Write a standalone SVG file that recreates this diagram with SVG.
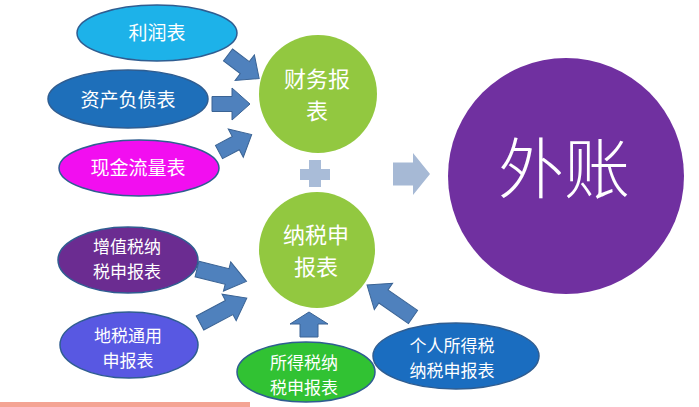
<svg xmlns="http://www.w3.org/2000/svg" width="699" height="407" viewBox="0 0 699 407">
<style>
  .t{font-family:"Noto Sans CJK SC","Noto Sans",sans-serif;fill:#ffffff;text-anchor:middle}
  .s19{font-size:19px}
  .s18{font-size:17px}
  .s24{font-size:22px}
  .ell{stroke:#2f5d91;stroke-width:1.5}
  .arr{fill:#4f81bd;stroke:#3a6394;stroke-width:1}
  .green{fill:#92c840}
</style>
<rect width="699" height="407" fill="#ffffff"/>
<rect x="0" y="402" width="250" height="5" fill="#f4a494"/>

<g id="connectors">
  <path class="arr" transform="translate(228,55) rotate(37)" d="M0,-7.5 L21,-7.5 L21,-16 L39,0 L21,16 L21,7.5 L0,7.5 Z"/>
  <path class="arr" transform="translate(212,104)" d="M0,-7.5 L20,-7.5 L20,-16 L38,0 L20,16 L20,7.5 L0,7.5 Z"/>
  <path class="arr" transform="translate(219,152) rotate(-28)" d="M0,-7.5 L19,-7.5 L19,-16 L37,0 L19,16 L19,7.5 L0,7.5 Z"/>
  <path class="arr" transform="translate(197,269) rotate(14)" d="M0,-8 L31,-8 L31,-15 L51,0 L31,15 L31,8 L0,8 Z"/>
  <path class="arr" transform="translate(200,323) rotate(-28)" d="M0,-8 L33,-8 L33,-15 L53,0 L33,15 L33,8 L0,8 Z"/>
  <path class="arr" transform="translate(309,337) rotate(-90)" d="M0,-9 L13,-9 L13,-19 L25,0 L13,19 L13,9 L0,9 Z"/>
  <path class="arr" transform="translate(413,317) rotate(-145.2)" d="M0,-8 L36,-8 L36,-16 L56,0 L36,16 L36,8 L0,8 Z"/>
  <path fill="#a6b9d5" d="M393,162.5 L413,162.5 L413,153 L430,174 L413,195 L413,185.5 L393,185.5 Z"/>
  <g id="plus" fill="#a9bcd8">
    <rect x="309" y="160" width="12" height="27"/>
    <rect x="300" y="169" width="30" height="11"/>
  </g>
</g>

<g id="lirunbiao">
  <ellipse class="ell" cx="157" cy="33" rx="80" ry="28" fill="#1db2e9"/>
  <text class="t s19" x="157" y="40">利润表</text>
</g>
<g id="zichanfuzhaibiao">
  <ellipse class="ell" cx="128" cy="99" rx="80" ry="29" fill="#1e6fba"/>
  <text class="t s19" x="128" y="107">资产负债表</text>
</g>
<g id="xianjinliuliangbiao">
  <ellipse class="ell" cx="139" cy="168" rx="80" ry="28" fill="#f20ef0"/>
  <text class="t s19" x="138" y="175">现金流量表</text>
</g>
<g id="caiwubaobiao">
  <circle class="green" cx="318" cy="94" r="59"/>
  <text class="t s24" x="317" y="87">财务报</text>
  <text class="t s24" x="317" y="119">表</text>
</g>
<g id="nashuishenbaobiao">
  <circle class="green" cx="317" cy="250" r="58"/>
  <text class="t s24" x="316" y="243">纳税申</text>
  <text class="t s24" x="316" y="275">报表</text>
</g>
<g id="zengzhishui">
  <ellipse class="ell" cx="128" cy="260" rx="70" ry="33" fill="#6b2c91"/>
  <text class="t s18" x="127" y="252.5">增值税纳</text>
  <text class="t s18" x="127" y="277.5">税申报表</text>
</g>
<g id="dishui">
  <ellipse class="ell" cx="129" cy="345" rx="69" ry="33" fill="#5858e2"/>
  <text class="t s18" x="128" y="341.5">地税通用</text>
  <text class="t s18" x="128" y="366.5">申报表</text>
</g>
<g id="suodeshui">
  <ellipse class="ell" cx="306" cy="372" rx="69" ry="30" fill="#31c233"/>
  <text class="t s18" x="304" y="368.5">所得税纳</text>
  <text class="t s18" x="304" y="393.5">税申报表</text>
</g>
<g id="gerensuodeshui">
  <ellipse class="ell" cx="456" cy="356" rx="83" ry="33" fill="#1a6dc0"/>
  <text class="t s18" x="452" y="352">个人所得税</text>
  <text class="t s18" x="452" y="377">纳税申报表</text>
</g>
<g id="waizhang">
  <circle cx="566" cy="176" r="118" fill="#7030a0"/>
  <text class="t" style="font-size:66px;font-weight:300" x="564" y="193">外账</text>
</g>
</svg>
